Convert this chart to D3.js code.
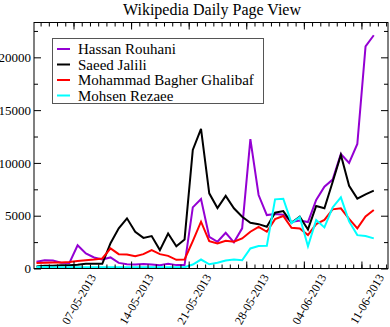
<!DOCTYPE html>
<html>
<head>
<meta charset="utf-8">
<script src="https://cdn.jsdelivr.net/npm/d3@7"></script>
<style>
  body { margin: 0; background: #fff; }
  svg text { font-family: "Liberation Serif", "DejaVu Serif", serif; }
</style>
</head>
<body>
<svg id="chart" width="390" height="327"></svg>
<script>
// one point per day, 02-05-2013 .. 12-06-2013
const days = ["02-05","03-05","04-05","05-05","06-05","07-05","08-05","09-05","10-05","11-05",
  "12-05","13-05","14-05","15-05","16-05","17-05","18-05","19-05","20-05","21-05",
  "22-05","23-05","24-05","25-05","26-05","27-05","28-05","29-05","30-05","31-05",
  "01-06","02-06","03-06","04-06","05-06","06-06","07-06","08-06","09-06","10-06",
  "11-06","12-06"];

const rouhani = [630, 780, 760, 550, 530, 2200, 1420, 1040, 850, 1050,
  530, 410, 380, 420, 380, 300, 450, 320, 320, 5790,
  6580, 3000, 2530, 3380, 2480, 3800, 12250, 6960, 5060, 5150,
  5100, 4400, 4550, 4400, 6490, 7750, 8420, 10840, 10000, 11800,
  21040, 22090];
const jalili = [200, 250, 250, 300, 300, 350, 450, 450, 450, 2400,
  3800, 4750, 3480, 2900, 3070, 1740, 3320, 2100, 2750, 11230,
  13230, 7120, 5730, 6880, 5700, 4900, 4330, 4200, 3950, 5280,
  5440, 4330, 4900, 3700, 5920, 5700, 8200, 10760, 7830, 6620,
  7030, 7370];
const ghalibaf = [530, 550, 560, 580, 620, 720, 780, 850, 950, 1900,
  1360, 1330, 1170, 1360, 1740, 1360, 1200, 820, 850, 2600,
  4430, 2590, 2370, 2620, 2530, 2850, 3480, 3950, 3480, 4680,
  4970, 3860, 3800, 3160, 4200, 4600, 5600, 5700, 4700, 3800,
  4930, 5540];
const rezaee = [150, 140, 130, 130, 120, 120, 130, 120, 120, 130,
  120, 120, 110, 120, 120, 110, 120, 110, 120, 380,
  850, 400, 550, 750, 850, 780, 1900, 2120, 2150, 6550,
  6610, 4300, 4870, 2100, 4590, 3890, 5780, 6740, 4460, 3160,
  3070, 2850];

const names = ["Hassan Rouhani", "Saeed Jalili", "Mohammad Bagher Ghalibaf", "Mohsen Rezaee"];
const colors = ["#9400d3", "#000000", "#ff0000", "#00ffff"];
const xTickLabels = ["07-05-2013", "14-05-2013", "21-05-2013", "28-05-2013", "04-06-2013", "11-06-2013"];
const yTicks = [0, 5000, 10000, 15000, 20000];
const yMinor = [2500, 7500, 12500, 17500, 22500];

const frame = { left: 34, right: 388, top: 22.5, bottom: 268.5 };

const svg = d3.select("#chart");
const parseDay = s => { const d = d3.timeParse("%d-%m-%Y")(s + "-2013"); d.setHours(12); return d; };
const dates = days.map(parseDay);
const majorDates = xTickLabels.map(d3.timeParse("%d-%m-%Y"));

const x = d3.scaleTime()
  .domain([new Date(2013, 4, 2, 4, 45), new Date(2013, 5, 14, 5, 30)])
  .range([frame.left, frame.right]);
const y = d3.scaleLinear()
  .domain([0, 23300])
  .range([frame.bottom, frame.top]);

// title
svg.append("text")
  .attr("x", 212).attr("y", 15)
  .attr("text-anchor", "middle")
  .style("font-size", "16px")
  .text("Wikipedia Daily Page View");

// series
const line = d3.line()
  .x((d, i) => x(dates[i]))
  .y(d => y(d));

const series = [rouhani, jalili, ghalibaf, rezaee];
const plot = svg.append("g");
series.forEach((s, i) => {
  plot.append("path")
    .datum(s)
    .attr("d", line)
    .attr("fill", "none")
    .attr("stroke", colors[i])
    .attr("stroke-width", 2)
    .attr("stroke-linejoin", "miter");
});

// axes, ticks pointing inward
const minorDays = d3.timeDay.range(x.domain()[0], x.domain()[1]);
function xAxes(gen, ty) {
  svg.append("g").attr("transform", `translate(0,${ty})`)
    .call(gen(x).tickValues(minorDays).tickSize(-4).tickSizeOuter(0).tickFormat(""));
  svg.append("g").attr("transform", `translate(0,${ty})`)
    .call(gen(x).tickValues(majorDates).tickSize(-7).tickSizeOuter(0).tickFormat(""));
}
xAxes(d3.axisBottom, frame.bottom);
xAxes(d3.axisTop, frame.top);

function yAxes(gen, tx, labels) {
  svg.append("g").attr("transform", `translate(${tx},0)`)
    .call(gen(y).tickValues(yMinor).tickSize(-4).tickSizeOuter(0).tickFormat(""));
  svg.append("g").attr("transform", `translate(${tx},0)`)
    .call(gen(y).tickValues(yTicks).tickSize(-7).tickSizeOuter(0).tickPadding(3)
      .tickFormat(labels ? d3.format("d") : ""));
}
yAxes(d3.axisLeft, frame.left, true);
yAxes(d3.axisRight, frame.right, false);

svg.selectAll(".domain").remove();
svg.selectAll(".tick line").attr("stroke", "#000");
svg.selectAll(".tick text")
  .style("font-size", "13px")
  .style("font-family", "'Liberation Serif', serif")
  .attr("fill", "#000");

// rotated date labels
svg.append("g").selectAll("text")
  .data(majorDates)
  .join("text")
  .attr("transform", d => `translate(${x(d) + 23},277) rotate(-60)`)
  .attr("text-anchor", "end")
  .style("font-size", "12px")
  .text((d, i) => xTickLabels[i]);

// frame
svg.append("rect")
  .attr("x", frame.left).attr("y", frame.top)
  .attr("width", frame.right - frame.left).attr("height", frame.bottom - frame.top)
  .attr("fill", "none").attr("stroke", "#000").attr("stroke-width", 1);

// legend
const lg = svg.append("g");
lg.append("rect")
  .attr("x", 52.5).attr("y", 38.5).attr("width", 211).attr("height", 65)
  .attr("fill", "#fff").attr("stroke", "#555");
const legY = d3.scalePoint().domain(names).range([49, 95.5]);
names.forEach((n, i) => {
  lg.append("line")
    .attr("x1", 57).attr("x2", 70)
    .attr("y1", legY(n)).attr("y2", legY(n))
    .attr("stroke", colors[i]).attr("stroke-width", 2);
  lg.append("text")
    .attr("x", 78).attr("y", legY(n))
    .attr("dy", "0.35em")
    .style("font-size", "15px")
    .text(n);
});
</script>
</body>
</html>
